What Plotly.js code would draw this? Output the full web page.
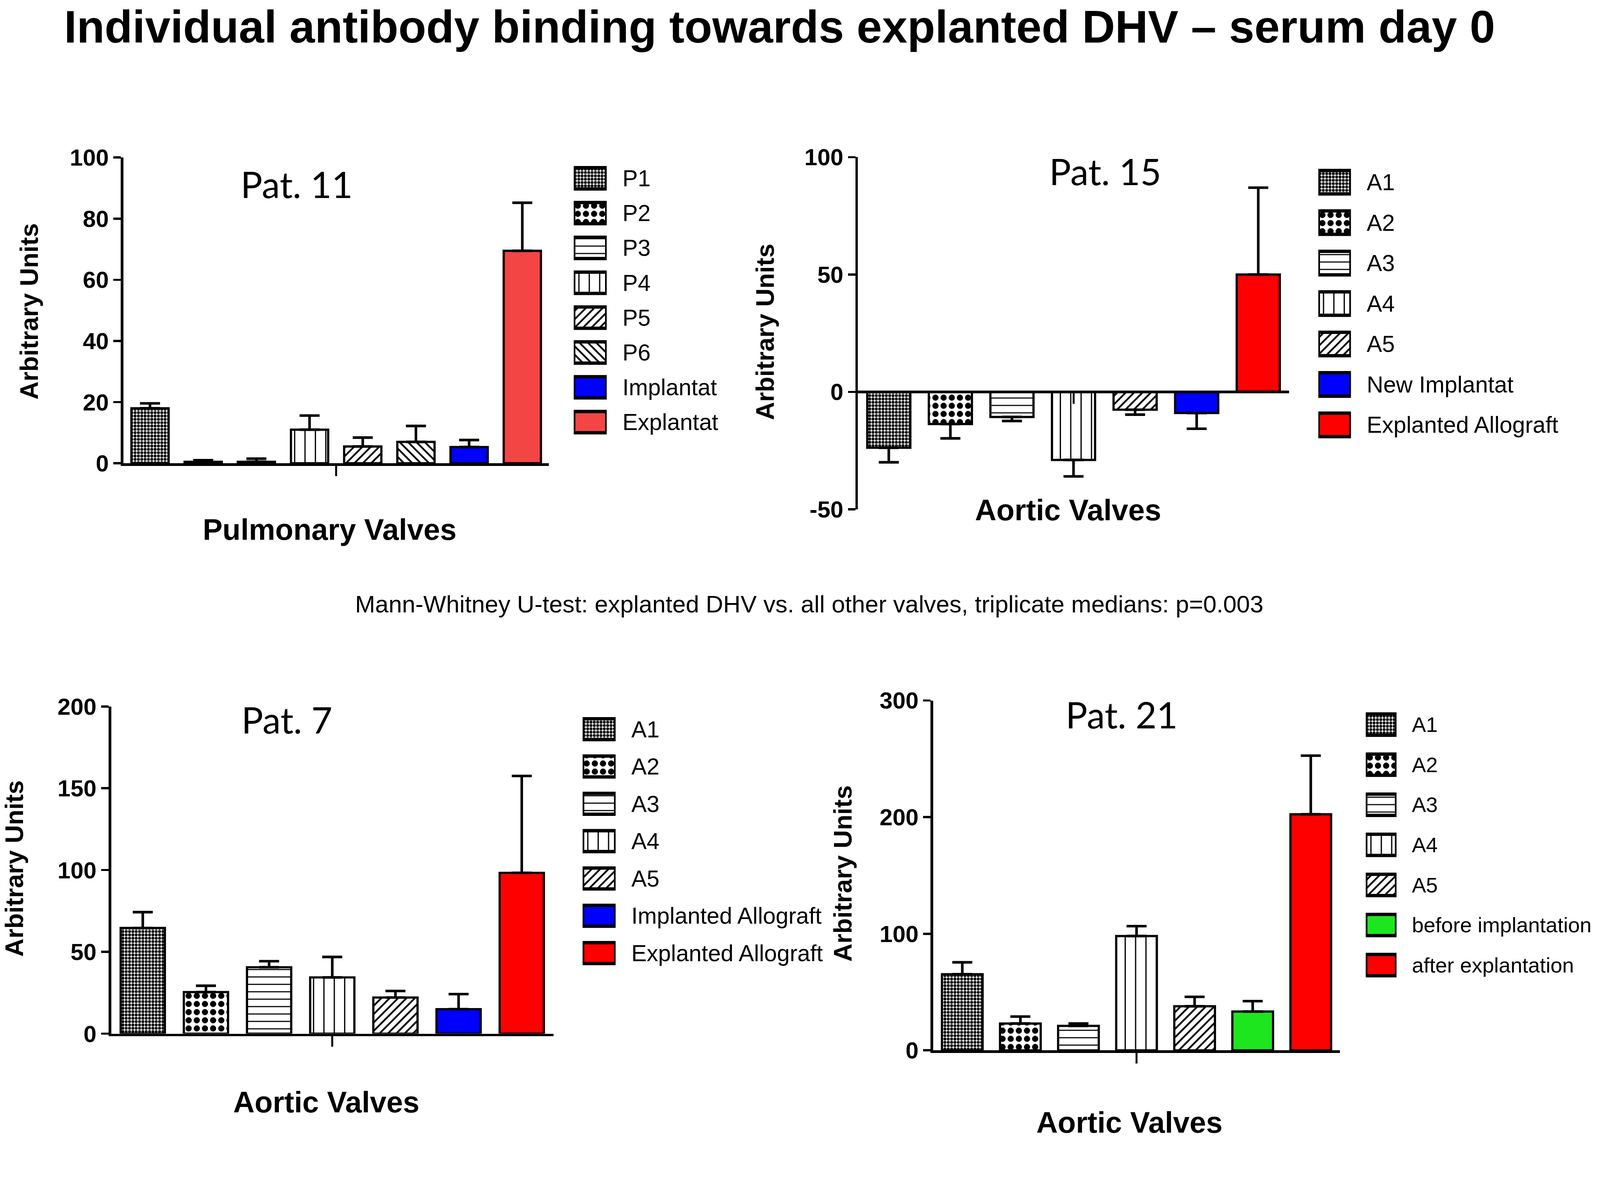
<!DOCTYPE html>
<html>
<head>
<meta charset="utf-8">
<script src="https://cdn.plot.ly/plotly-3.0.1.min.js"></script>
<style>html,body{margin:0;padding:0;background:#fff;overflow:hidden}</style>
</head>
<body>
<div id="chart"></div>
<script>
// Pat. 11 - pulmonary valves
var p11Labels = ['P1', 'P2', 'P3', 'P4', 'P5', 'P6', 'Implantat', 'Explantat']
var p11Values = [18, 0.5, 0.5, 11, 5.5, 7, 5.3, 69.5]
var p11Errors = [1.6, 0.5, 1.0, 4.6, 2.9, 5.2, 2.3, 15.7]
var p11Fills = ['fine', 'checker', 'hline', 'vline', 'diag', 'rdiag', 'blue', 'paleRed']
var p11Ticks = [0, 20, 40, 60, 80, 100]

// Pat. 15 - aortic valves
var p15Labels = ['A1', 'A2', 'A3', 'A4', 'A5', 'New Implantat', 'Explanted Allograft']
var p15Values = [-23.8, -13.7, -10.7, -29, -7.6, -9, 50]
var p15Errors = [6.2, 6.1, 1.7, 7, 2.1, 6.7, 37]
var p15Fills = ['fine', 'checker', 'hline', 'vline', 'diag', 'blue', 'red']
var p15Ticks = [-50, 0, 50, 100]

// Pat. 7 - aortic valves
var p7Labels = ['A1', 'A2', 'A3', 'A4', 'A5', 'Implanted Allograft', 'Explanted Allograft']
var p7Values = [64.6, 25.4, 40.6, 34.4, 22.1, 15, 98.3]
var p7Errors = [9.7, 3.9, 3.7, 12.5, 4, 9.2, 59.2]
var p7Fills = ['fine', 'checker', 'hline', 'vline', 'diag', 'blue', 'red']
var p7Ticks = [0, 50, 100, 150, 200]

// Pat. 21 - aortic valves
var p21Labels = ['A1', 'A2', 'A3', 'A4', 'A5', 'before implantation', 'after explantation']
var p21Values = [65.3, 23, 21, 98, 37.8, 33.3, 202.4]
var p21Errors = [10.2, 6, 2, 8.5, 8.1, 8.9, 50.3]
var p21Fills = ['fine', 'checker', 'hline', 'vline', 'diag', 'green', 'red']
var p21Ticks = [0, 100, 200, 300]

var mainTitle = 'Individual antibody binding towards explanted DHV \u2013 serum day 0'
var footnote = 'Mann-Whitney U-test: explanted DHV vs. all other valves, triplicate medians: p=0.003'
var yTitle = 'Arbitrary Units'

// design size; everything is scaled to the real viewport
var W = 4317, H = 3075
var vw = window.innerWidth || W, vh = window.innerHeight || H
var S = Math.min(vw / W, vh / H)
function px(v) { return v * S }
function fx(p) { return p / W }
function fy(p) { return 1 - p / H }

var NARROW = '"Liberation Sans Narrow", "Arial Narrow", "Liberation Sans", Arial, sans-serif'
var ARIAL = '"Liberation Sans", Arial, sans-serif'
var PAT = 'Lato, "Open Sans", sans-serif'

// pattern bars: color is the ink of the pattern, background stays white
var fills = {
    fine: { shape: '.', size: 9, solidity: 0.6, color: 'black' },
    checker: { shape: '.', size: 22, solidity: 0.45, color: 'black' },
    hline: { shape: '-', size: 20, solidity: 0.15, color: 'black' },
    vline: { shape: '|', size: 28, solidity: 0.12, color: 'black' },
    diag: { shape: '/', size: 16, solidity: 0.3, color: 'black' },
    rdiag: { shape: '\\', size: 16, solidity: 0.3, color: 'black' },
    blue: { shape: '', size: 8, solidity: 0.3, color: '#0000ff' },
    paleRed: { shape: '', size: 8, solidity: 0.3, color: '#f44545' },
    red: { shape: '', size: 8, solidity: 0.3, color: '#ff0000' },
    green: { shape: '', size: 8, solidity: 0.3, color: '#1ee61e' }
}

// pixel boxes [left, right, top, bottom] in the 4317x3075 design
var panels = [
    { labels: p11Labels, values: p11Values, errors: p11Errors, fills: p11Fills, ticks: p11Ticks,
      title: 'Pat. 11', xTitle: 'Pulmonary Valves',
      plot: [333, 1481, 425, 1250], legend: [1548, 1637, 434, 1186], legendWidth: 0.61, legendFont: 62,
      titlePos: [801, 496], yTitlePos: [79, 840], xTitlePos: [890, 1428] },
    { labels: p15Labels, values: p15Values, errors: p15Errors, fills: p15Fills, ticks: p15Ticks,
      title: 'Pat. 15', xTitle: 'Aortic Valves',
      plot: [2315, 3478, 424, 1374], legend: [3557, 3645, 437, 1201], legendWidth: 0.58, legendFont: 62,
      titlePos: [2982, 462], yTitlePos: [2065, 895], xTitlePos: [2882, 1376] },
    { labels: p7Labels, values: p7Values, errors: p7Errors, fills: p7Fills, ticks: p7Ticks,
      title: 'Pat. 7', xTitle: 'Aortic Valves',
      plot: [300, 1493, 1906, 2789], legend: [1572, 1661, 1917, 2622], legendWidth: 0.56, legendFont: 62,
      titlePos: [774, 1941], yTitlePos: [39, 2343], xTitlePos: [881, 2973] },
    { labels: p21Labels, values: p21Values, errors: p21Errors, fills: p21Fills, ticks: p21Ticks,
      title: 'Pat. 21', xTitle: 'Aortic Valves',
      plot: [2518, 3615, 1890, 2834], legend: [3685, 3768, 1901, 2658], legendWidth: 0.53, legendFont: 57,
      titlePos: [3026, 1927], yTitlePos: [2274, 2357], xTitlePos: [3048, 3028] }
]

function markerFor(keys, lineWidth) {
    var st = keys.map(function (k) { return fills[k] })
    return {
        color: st.map(function (s) { return s.color }),
        line: { color: 'black', width: px(lineWidth) },
        pattern: {
            shape: st.map(function (s) { return s.shape }),
            size: st.map(function (s) { return px(s.size) }),
            solidity: st.map(function (s) { return s.solidity }),
            fillmode: 'replace'
        }
    }
}

var data = []
var layout = {
    width: px(W),
    height: px(H),
    margin: { l: 0, r: 0, t: 0, b: 0, pad: 0 },
    paper_bgcolor: 'white',
    plot_bgcolor: 'white',
    showlegend: false,
    font: { family: ARIAL, color: 'black' },
    annotations: []
}

panels.forEach(function (p, i) {
    var n = i + 1
    var ln = i + 5
    var xs = 'x' + (n === 1 ? '' : n)
    var ys = 'y' + (n === 1 ? '' : n)
    var count = p.labels.length
    var lo = p.ticks[0], hi = p.ticks[p.ticks.length - 1]

    var plus = p.values.map(function (v, k) { return v >= 0 ? p.errors[k] : 0 })
    var minus = p.values.map(function (v, k) { return v < 0 ? p.errors[k] : 0 })

    data.push({
        type: 'bar',
        x: p.labels.map(function (_, k) { return k }),
        y: p.values,
        text: p.labels,
        hoverinfo: 'text+y',
        textposition: 'none',
        width: 0.7,
        xaxis: xs,
        yaxis: ys,
        marker: markerFor(p.fills, 6),
        error_y: {
            type: 'data', symmetric: false, array: plus, arrayminus: minus,
            color: 'black', thickness: px(7), width: px(27)
        }
    })

    // legend swatches as horizontal bars
    data.push({
        type: 'bar',
        orientation: 'h',
        y: p.labels,
        x: p.labels.map(function () { return 1 }),
        base: 0,
        width: p.legendWidth,
        hoverinfo: 'skip',
        xaxis: 'x' + ln,
        yaxis: 'y' + ln,
        marker: markerFor(p.fills, 9)
    })

    var yBot = fy(p.plot[3]), yTop = fy(p.plot[2])
    var xAxis = {
        domain: [fx(p.plot[0]), fx(p.plot[1])],
        range: [-0.5, count - 0.5],
        anchor: ys,
        showline: true, linecolor: 'black', linewidth: px(7),
        ticks: 'outside', tickvals: [(count - 1) / 2], ticklen: px(28), tickwidth: px(5), tickcolor: 'black',
        showticklabels: false, showgrid: false, zeroline: false, fixedrange: true
    }
    if (lo < 0) {
        // axis line sits at y = 0
        xAxis.anchor = 'free'
        xAxis.position = yBot + (0 - lo) / (hi - lo) * (yTop - yBot)
    }
    layout['xaxis' + (n === 1 ? '' : n)] = xAxis
    layout['yaxis' + (n === 1 ? '' : n)] = {
        domain: [yBot, yTop],
        range: [lo, hi],
        anchor: xs,
        showline: true, linecolor: 'black', linewidth: px(7),
        ticks: 'outside', tickvals: p.ticks, ticktext: p.ticks.map(String),
        ticklen: px(20), tickwidth: px(6), tickcolor: 'black',
        tickfont: { family: NARROW, size: px(63), weight: 'bold', color: 'black' },
        ticklabelstandoff: -px(18),
        showgrid: false, zeroline: false, fixedrange: true
    }

    layout['xaxis' + ln] = {
        domain: [fx(p.legend[0]), fx(p.legend[1])],
        range: [0, 1],
        anchor: 'y' + ln,
        visible: false, fixedrange: true
    }
    layout['yaxis' + ln] = {
        domain: [fy(p.legend[3]), fy(p.legend[2])],
        type: 'category',
        range: [count - 0.5, -0.5],
        anchor: 'x' + ln,
        side: 'right',
        ticks: 'outside', ticklen: px(29), tickcolor: 'rgba(0,0,0,0)',
        showline: false, showgrid: false, zeroline: false,
        tickfont: { family: NARROW, size: px(p.legendFont), color: 'black' },
        fixedrange: true
    }

    layout.annotations.push({
        text: p.title, xref: 'paper', yref: 'paper',
        x: fx(p.titlePos[0]), y: fy(p.titlePos[1]), xanchor: 'center', yanchor: 'middle',
        showarrow: false, font: { family: PAT, size: px(98), color: 'black' }
    })
    layout.annotations.push({
        text: '<b>' + yTitle + '</b>', xref: 'paper', yref: 'paper', textangle: -90,
        x: fx(p.yTitlePos[0]), y: fy(p.yTitlePos[1]), xanchor: 'center', yanchor: 'middle',
        showarrow: false, font: { family: ARIAL, size: px(68), color: 'black' }
    })
    layout.annotations.push({
        text: '<b>' + p.xTitle + '</b>', xref: 'paper', yref: 'paper',
        x: fx(p.xTitlePos[0]), y: fy(p.xTitlePos[1]), xanchor: 'center', yanchor: 'middle',
        showarrow: false, font: { family: ARIAL, size: px(80), color: 'black' }
    })
})

layout.annotations.push({
    text: '<b>' + mainTitle + '</b>', xref: 'paper', yref: 'paper',
    x: fx(2103), y: fy(72), xanchor: 'center', yanchor: 'middle',
    showarrow: false, font: { family: ARIAL, size: px(123), color: 'black' }
})
layout.annotations.push({
    text: footnote, xref: 'paper', yref: 'paper',
    x: fx(2183), y: fy(1630), xanchor: 'center', yanchor: 'middle',
    showarrow: false, font: { family: ARIAL, size: px(65), color: 'black' }
})

var config = { responsive: false, displayModeBar: false, staticPlot: true }

Plotly.newPlot('chart', data, layout, config)
</script>
</body>
</html>
